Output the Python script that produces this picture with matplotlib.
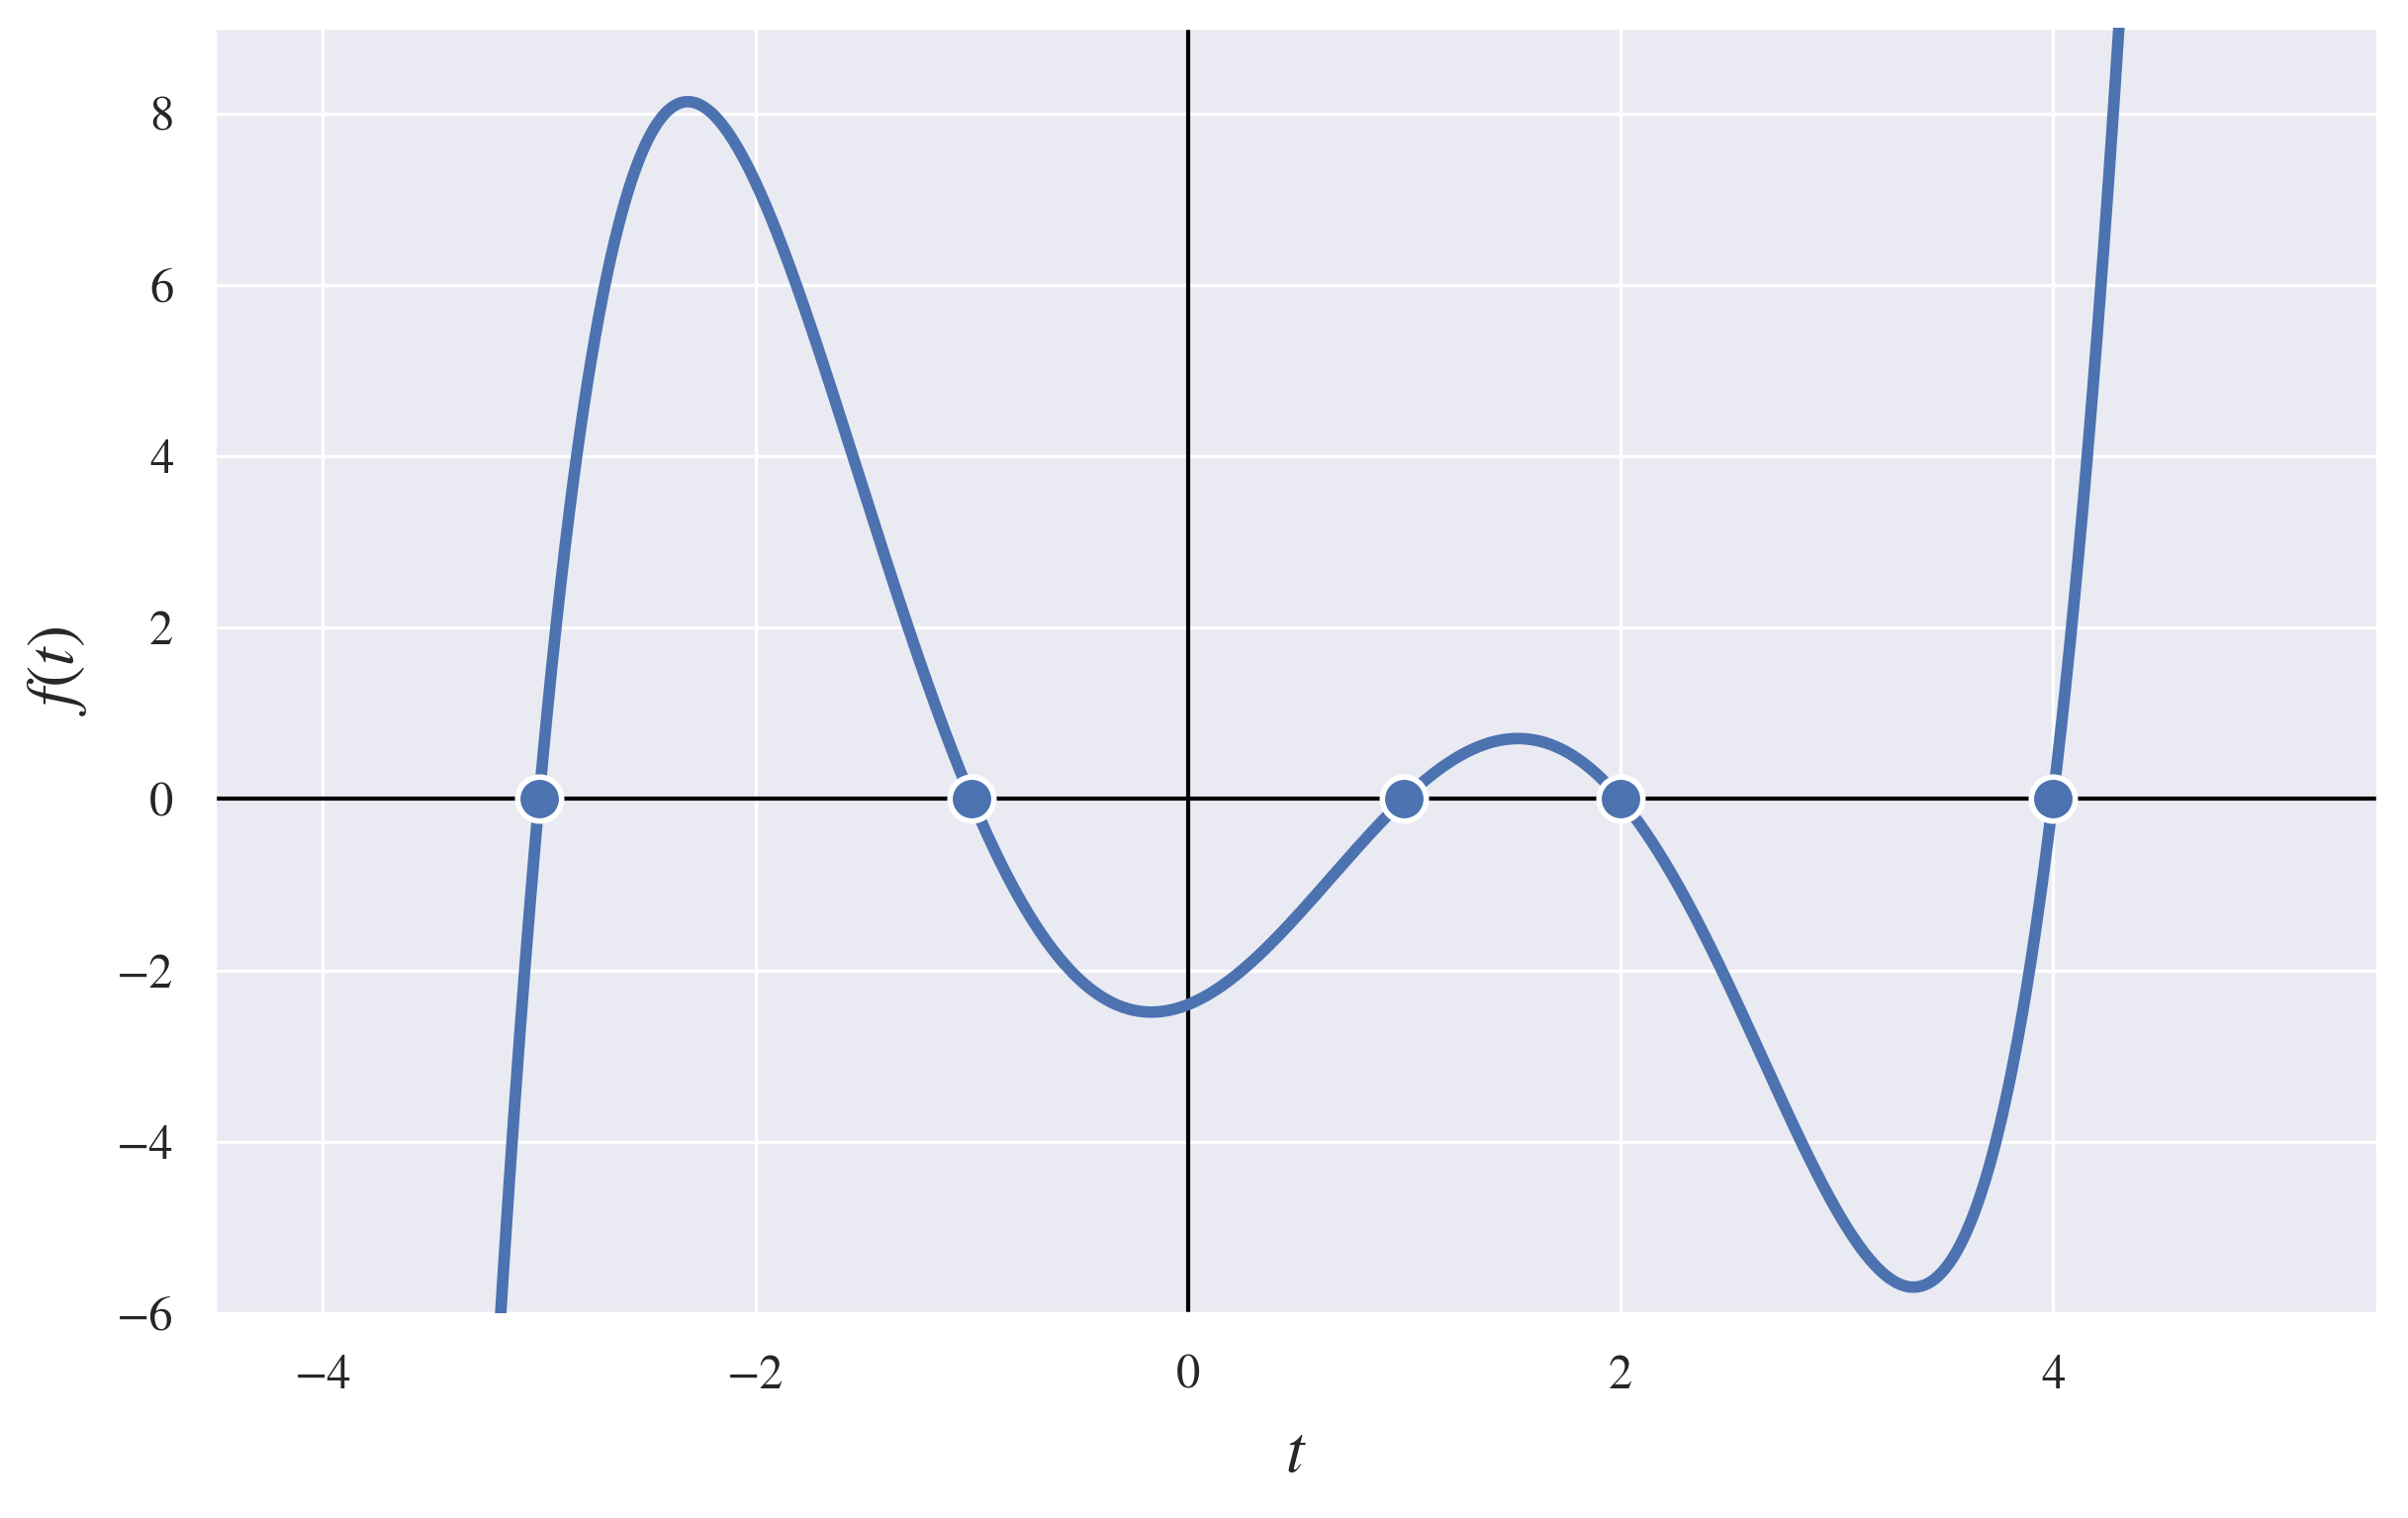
import numpy as np
import matplotlib
matplotlib.use("Agg")
import matplotlib.pyplot as plt
import seaborn as sns

# Data: roots of the plotted polynomial and its leading coefficient
roots = [-3, -1, 1, 2, 4]
lead_coef = 0.1
x_range = (-4.5, 5.5)
y_range = (-6, 9)
x_ticks = [-4, -2, 0, 2, 4]
y_ticks = [-6, -4, -2, 0, 2, 4, 6, 8]

sns.set_theme(style="darkgrid")
plt.rcParams['font.family'] = ['STIXGeneral', 'DejaVu Sans']
plt.rcParams['mathtext.fontset'] = 'stix'

DPI = 200
fig = plt.figure(figsize=(2434 / DPI, 1534 / DPI), dpi=DPI)
ax = fig.add_axes([217 / 2434, 1 - 1327 / 1534, (2403 - 217) / 2434, (1327 - 28) / 1534])

t = np.linspace(x_range[0], x_range[1], 2000)
coeffs = lead_coef * np.poly(roots)
f = np.polyval(coeffs, t)

ax.axhline(0, color='black', lw=1.5, zorder=2)
ax.axvline(0, color='black', lw=1.5, zorder=2)
ax.plot(t, f, color='#4c72b0', lw=4.2, zorder=3)
ax.plot(roots, np.zeros(len(roots)), 'o', color='#4c72b0', markersize=16,
        markeredgecolor='white', markeredgewidth=2.0, zorder=4)

ax.set_xlim(*x_range)
ax.set_ylim(*y_range)
ax.set_xticks(x_ticks)
ax.set_yticks(y_ticks)
ax.grid(True, color='white', lw=1.2)
ax.tick_params(labelsize=17.5, colors='#262626', pad=9)
ax.set_xlabel('$t$', fontsize=24, labelpad=10)
ax.set_ylabel('$f(t)$', fontsize=24, labelpad=10)

fig.savefig('out.png', dpi=DPI)
